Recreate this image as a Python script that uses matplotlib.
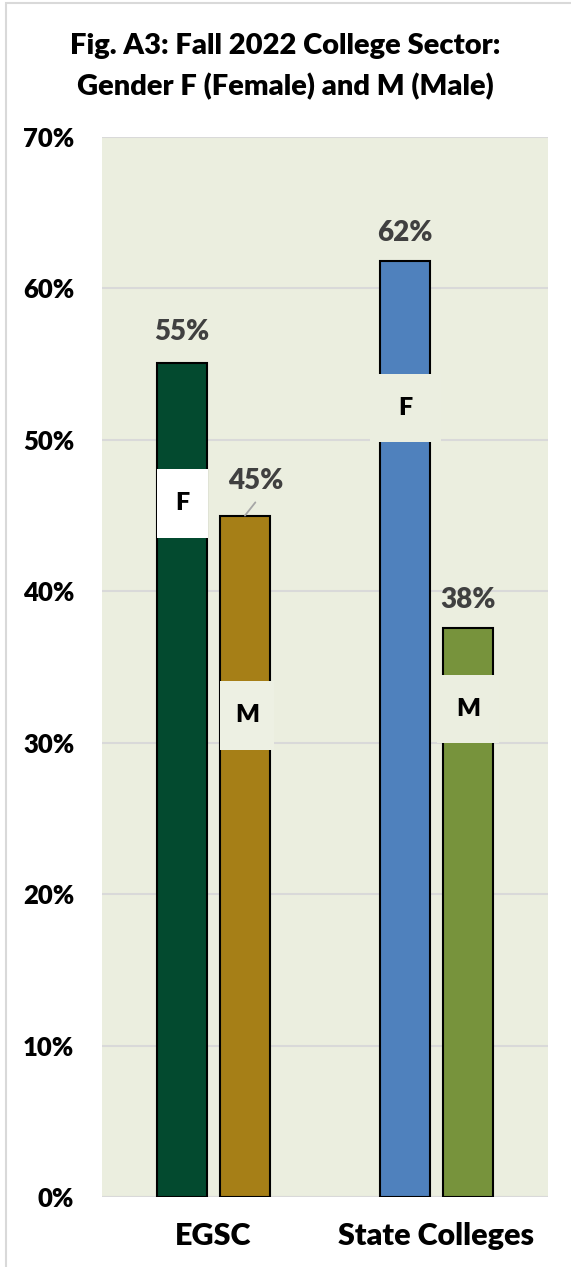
import matplotlib
matplotlib.use("Agg")
import matplotlib.pyplot as plt
from matplotlib.patches import Rectangle
from matplotlib.ticker import PercentFormatter

plt.rcParams['font.family'] = ['Lato', 'DejaVu Sans']
W = "heavy"

# data
sectors = ["EGSC", "State Colleges"]
female = [55.1, 61.8]
male = [45.0, 37.6]
female_labels = ["55%", "62%"]
male_labels = ["45%", "38%"]
# where the F / M tags sit on the bars (in % units)
female_tag_y = [45.8, 52.1]
male_tag_y = [31.8, 32.2]

female_colors = ["#034A2F", "#4F81BD"]
male_colors = ["#A67F17", "#77933C"]
bg = "#EBEEDF"

fig = plt.figure(figsize=(5.71, 12.67), dpi=100)
ax = fig.add_axes([102 / 571, 1 - 1197 / 1267, 446 / 571, 1060 / 1267])
ax.set_facecolor(bg)

x = list(range(len(sectors)))
w = 0.224
off = 0.141
xf = [i - off for i in x]
xm = [i + off for i in x]

ax.bar(xf, female, width=w, color=female_colors, edgecolor="black", linewidth=1.5, zorder=3)
ax.bar(xm, male, width=w, color=male_colors, edgecolor="black", linewidth=1.5, zorder=3)

ax.set_xlim(-0.5, 1.5)
ax.set_ylim(0, 70)
ax.set_yticks(range(0, 71, 10))
ax.yaxis.set_major_formatter(PercentFormatter(decimals=0))
ax.grid(axis="y", color="#D9D9D9", linewidth=1.5, zorder=1)
for s in ["left", "right", "top", "bottom"]:
    ax.spines[s].set_visible(False)
ax.axhline(0, color="#D9D9D9", linewidth=1.5, zorder=2)

ax.set_xticks(x)
ax.set_xticklabels(sectors, fontsize=22, fontweight=W)
ax.tick_params(axis="x", length=0, pad=18)
ax.tick_params(axis="y", length=0, pad=20, labelsize=18.5)
for t in ax.get_yticklabels():
    t.set_fontweight(W)

# value labels
val_kw = dict(ha="center", va="center", fontsize=20, fontweight=W, color="#404040", zorder=5)
ax.text(xf[0], female[0] + 2.0, female_labels[0], **val_kw)
ax.text(xf[1], female[1] + 1.85, female_labels[1], **val_kw)
ax.text(xm[1], male[1] + 1.8, male_labels[1], **val_kw)
# 45% sits a little to the right with a short leader line
ax.text(xm[0] + 0.05, male[0] + 2.3, male_labels[0], **val_kw)
ax.annotate("", xy=(xm[0], male[0]), xytext=(7.5, 9.5), textcoords="offset points",
            arrowprops=dict(arrowstyle="-", color="#A6A6A6", lw=1.3, shrinkA=0, shrinkB=0),
            zorder=5)

# F / M tags: label boxes sitting on the bars
tag_w_f = [0.229, 0.318]
tag_w_m = [0.242, 0.278]
tag_h = 4.5
tag_colors_f = ["white", "#EBEEE0"]
tag_colors_m = ["#EDF0E3", "#EBEEE0"]
for i in x:
    for xc, yc, tw, fc, lab in [(xf[i], female_tag_y[i], tag_w_f[i], tag_colors_f[i], "F"),
                                (xm[i] + (0.01 if i == 0 else 0), male_tag_y[i], tag_w_m[i], tag_colors_m[i], "M")]:
        ax.add_patch(Rectangle((xc - tw / 2, yc - tag_h / 2), tw, tag_h,
                               facecolor=fc, edgecolor="none", zorder=6))
        ax.text(xc, yc, lab, ha="center", va="center", fontsize=18,
                fontweight=W, color="black", zorder=7)

fig.text(0.5, 1 - 46 / 1267, "Fig. A3: Fall 2022 College Sector:", ha="center", va="center",
         fontsize=21, fontweight=W)
fig.text(0.5, 1 - 87 / 1267, "Gender F (Female) and M (Male)", ha="center", va="center",
         fontsize=21, fontweight=W)

# outer chart border (left and top visible)
fig.patches.append(Rectangle((6 / 571, -0.1), 1.2, 1 - 3 / 1267 + 0.1, transform=fig.transFigure,
                             fill=False, edgecolor="#D9D9D9", linewidth=1.5))

fig.savefig("out.png", dpi=100, facecolor="white")
